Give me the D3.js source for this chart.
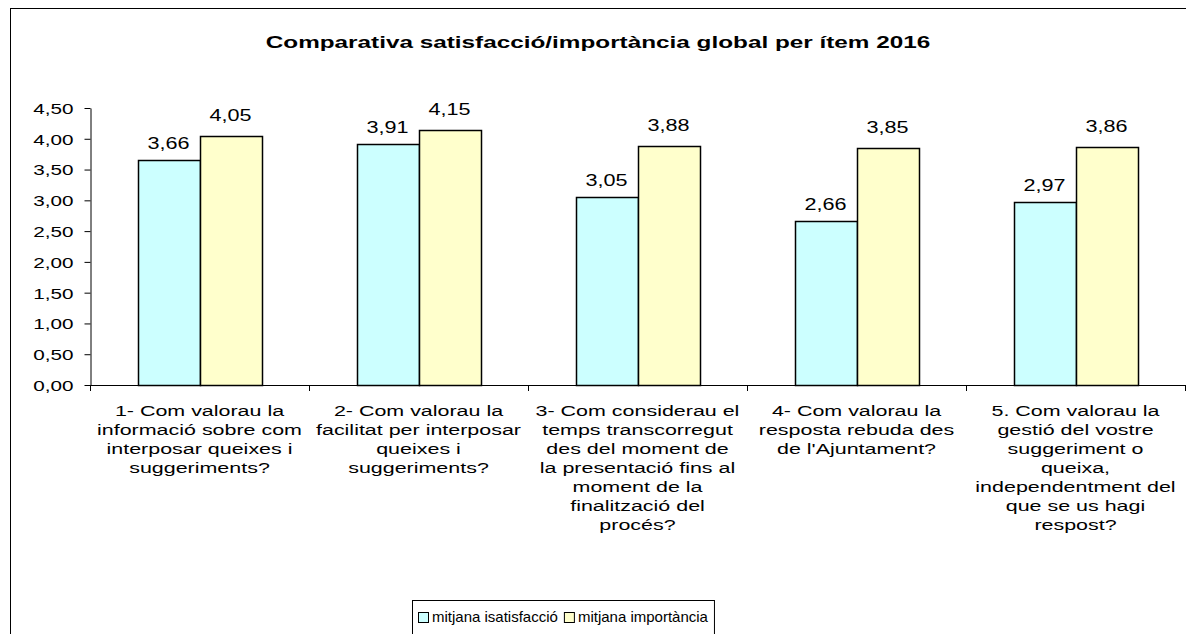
<!DOCTYPE html>
<html>
<head>
<meta charset="utf-8">
<script src="https://cdn.jsdelivr.net/npm/d3@7"></script>
<style>
  body { margin: 0; background: #fff; }
  svg { font-family: "Liberation Sans", Arial, sans-serif; }
</style>
</head>
<body>
<svg width="1186" height="634"></svg>
<script>
// Chart data
const categories = [
  ['1- Com valorau la', 'informació sobre com', 'interposar queixes i', 'suggeriments?'],
  ['2- Com valorau la', 'facilitat per interposar', 'queixes i', 'suggeriments?'],
  ['3- Com considerau el', 'temps transcorregut', 'des del moment de', 'la presentació fins al', 'moment de la', 'finalització del', 'procés?'],
  ['4- Com valorau la', 'resposta rebuda des', "de l'Ajuntament?"],
  ['5. Com valorau la', 'gestió del vostre', 'suggeriment o', 'queixa,', 'independentment del', 'que se us hagi', 'respost?'],
];
const seriesNames = ['mitjana isatisfacció', 'mitjana importància'];
const satisfaccio = [3.66, 3.91, 3.05, 2.66, 2.97];
const importancia = [4.05, 4.15, 3.88, 3.85, 3.86];
const yTicks = [0, 0.5, 1, 1.5, 2, 2.5, 3, 3.5, 4, 4.5];
const colors = ['#ccffff', '#ffffcc'];

const svg = d3.select('svg');
const margin = {left: 90, top: 108, right: 1185, bottom: 385};
const fmt = (v) => d3.format('.2f')(v).replace('.', ',');
// the source picture has horizontally widened type
const stretch = 1.43;

// text placed at (x, y) and widened around its anchor
function wideText(parent, x, y, size, s = stretch) {
  return parent.append('text')
    .attr('transform', `translate(${x},${y}) scale(${s},1)`)
    .attr('font-size', size);
}

// Outer frame
svg.append('rect')
  .attr('x', 10.5).attr('y', 8.5)
  .attr('width', 1200).attr('height', 700)
  .attr('fill', 'none').attr('stroke', '#000').attr('stroke-width', 1);

// Title
wideText(svg, 598, 48, 17)
  .attr('text-anchor', 'middle')
  .attr('font-weight', 'bold')
  .text('Comparativa satisfacció/importància global per ítem 2016');

const x = d3.scaleBand()
  .domain(d3.range(categories.length))
  .range([margin.left, margin.right]);

const y = d3.scaleLinear()
  .domain([0, 4.5])
  .range([margin.bottom, margin.top]);

const x1 = d3.scaleBand()
  .domain([0, 1])
  .range([0, x.bandwidth()])
  .paddingInner(0)
  .paddingOuter(0.77);

// Y axis
const yAxis = svg.append('g')
  .attr('transform', `translate(${margin.left + 0.5},0)`)
  .call(d3.axisLeft(y).tickValues(yTicks).tickFormat(fmt).tickSize(6).tickSizeOuter(0));
yAxis.selectAll('line, path').attr('stroke', '#000');
yAxis.selectAll('text')
  .attr('x', 0)
  .attr('dy', '0.36em')
  .attr('transform', `translate(-17,0) scale(1.38,1)`)
  .attr('font-size', 15).attr('fill', '#000').attr('font-family', null);

// X axis line and ticks at category boundaries
const xAxisG = svg.append('g');
xAxisG.append('line')
  .attr('x1', margin.left).attr('x2', margin.right)
  .attr('y1', margin.bottom + 0.5).attr('y2', margin.bottom + 0.5)
  .attr('stroke', '#000');
xAxisG.selectAll('.xtick')
  .data(d3.range(categories.length + 1))
  .join('line')
  .attr('x1', (i) => Math.round(margin.left + i * x.bandwidth()) + 0.5)
  .attr('x2', (i) => Math.round(margin.left + i * x.bandwidth()) + 0.5)
  .attr('y1', margin.bottom).attr('y2', margin.bottom + 6)
  .attr('stroke', '#000');

// Bars
const series = [satisfaccio, importancia];
const labelGap = [11, 15];
series.forEach((vals, s) => {
  const g = svg.append('g');
  g.selectAll('rect')
    .data(vals)
    .join('rect')
    .attr('x', (d, i) => Math.round(x(i) + x1(s)) + 0.5)
    .attr('y', (d) => Math.round(y(d)) + 0.5)
    .attr('width', Math.round(x1.bandwidth()))
    .attr('height', (d) => Math.round(y(0)) - Math.round(y(d)))
    .attr('fill', colors[s])
    .attr('stroke', '#000')
    .attr('stroke-width', 1.5);
  vals.forEach((d, i) => {
    wideText(g, x(i) + x1(s) + x1.bandwidth() / 2, y(d) - labelGap[s], 16, 1.35)
      .attr('text-anchor', 'middle')
      .text(fmt(d));
  });
});

// Category labels
categories.forEach((lines, i) => {
  const t = wideText(svg, x(i) + x.bandwidth() / 2, 416, 15)
    .attr('text-anchor', 'middle');
  lines.forEach((line, k) => {
    t.append('tspan')
      .attr('x', 0)
      .attr('y', k * 19)
      .text(line);
  });
});

// Legend (plain width type)
const legend = svg.append('g');
const box = legend.append('rect')
  .attr('x', 412.5).attr('y', 600.5)
  .attr('height', 60)
  .attr('fill', '#fff').attr('stroke', '#000');
let lx = 418;
seriesNames.forEach((name, s) => {
  legend.append('rect')
    .attr('x', lx + 0.5).attr('y', 612.5)
    .attr('width', 10).attr('height', 10)
    .attr('fill', colors[s]).attr('stroke', '#000');
  const t = legend.append('text')
    .attr('x', lx + 14).attr('y', 622)
    .attr('font-size', 15)
    .text(name);
  lx += 14 + t.node().getComputedTextLength() + 6;
});
box.attr('width', lx - 412);
</script>
</body>
</html>
